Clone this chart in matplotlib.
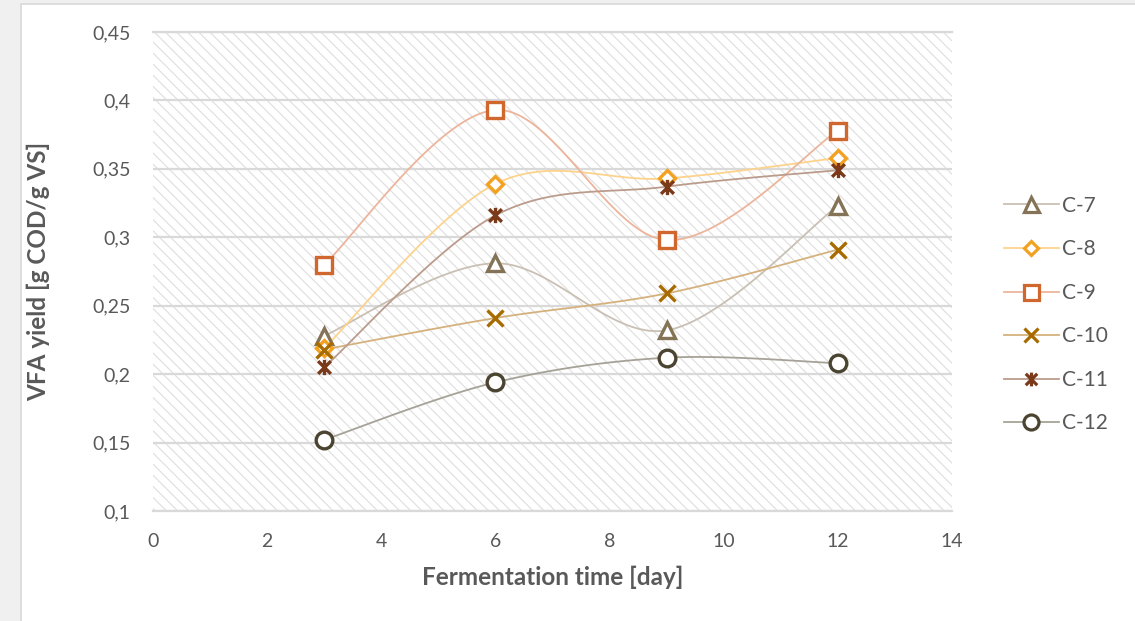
import numpy as np
import matplotlib
matplotlib.use('Agg')
import matplotlib.pyplot as plt
from matplotlib.path import Path
from matplotlib.patches import Rectangle
from matplotlib.ticker import FuncFormatter, MultipleLocator

plt.rcParams['font.family'] = ['Lato', 'DejaVu Sans']
plt.rcParams['hatch.linewidth'] = 0.8
plt.rcParams['hatch.color'] = '#dedede'

# fermentation days and VFA yields per culture
days = [3, 6, 9, 12]
series = ['C-7', 'C-8', 'C-9', 'C-10', 'C-11', 'C-12']
c7 = [0.228, 0.281, 0.232, 0.323]
c8 = [0.219, 0.339, 0.343, 0.358]
c9 = [0.280, 0.393, 0.298, 0.378]
c10 = [0.218, 0.241, 0.259, 0.291]
c11 = [0.205, 0.316, 0.337, 0.349]
c12 = [0.152, 0.194, 0.212, 0.208]
values = [c7, c8, c9, c10, c11, c12]

# asterisk marker: x plus a vertical stroke
star = Path([(-1, -1), (1, 1), (-1, 1), (1, -1), (0, -1.2), (0, 1.2)],
            [Path.MOVETO, Path.LINETO, Path.MOVETO, Path.LINETO, Path.MOVETO, Path.LINETO])

styles = {
    'C-7':  dict(marker='^', mc='#847356', lc='#c9c0b3', ms=12, fill='white'),
    'C-8':  dict(marker='D', mc='#f2a121', lc='#fdd38c', ms=8, fill='white'),
    'C-9':  dict(marker='s', mc='#d0672f', lc='#ecb59b', ms=12, fill='white'),
    'C-10': dict(marker='x', mc='#a86b00', lc='#d5b17d', ms=11, fill='none'),
    'C-11': dict(marker=star, mc='#7a3a1a', lc='#bb9c8c', ms=11, fill='none'),
    'C-12': dict(marker='o', mc='#4a4431', lc='#a6a297', ms=12, fill='white'),
}


def smooth(x, y, n=40):
    # Catmull-Rom style bezier through the points
    p = np.column_stack([x, y]).astype(float)
    ext = np.vstack([p[0], p, p[-1]])
    out = []
    t = np.linspace(0, 1, n)[:, None]
    for i in range(len(p) - 1):
        p0, p1, p2, p3 = ext[i], ext[i + 1], ext[i + 2], ext[i + 3]
        c1 = p1 + (p2 - p0) / 6
        c2 = p2 - (p3 - p1) / 6
        seg = ((1 - t) ** 3) * p1 + 3 * ((1 - t) ** 2) * t * c1 + 3 * (1 - t) * t ** 2 * c2 + t ** 3 * p2
        out.append(seg if i == 0 else seg[1:])
    out = np.vstack(out)
    return out[:, 0], out[:, 1]


fig = plt.figure(figsize=(11.35, 6.21), dpi=100, facecolor='#f0f0f0')
fig.patches.append(Rectangle((20.5 / 1135, -0.01), 1.1, 1 - 3.5 / 621 + 0.01,
                             transform=fig.transFigure, facecolor='white',
                             edgecolor='#d9d9d9', linewidth=1.2, zorder=-5))

ax = fig.add_axes([153 / 1135, 1 - 511 / 621, (952 - 153) / 1135, (511 - 32) / 621])
ax.set_facecolor('white')
ax.add_patch(Rectangle((0, 0), 1, 1, transform=ax.transAxes, facecolor='white',
                       edgecolor='#dedede', hatch='\\\\\\', linewidth=0, zorder=0))

for name, vals in zip(series, values):
    st = styles[name]
    sx, sy = smooth(days, vals)
    ax.plot(sx, sy, color=st['lc'], linewidth=1.3, zorder=2)
    ax.plot(days, vals, linestyle='none', marker=st['marker'], markersize=st['ms'],
            markeredgecolor=st['mc'], markerfacecolor=st['fill'], markeredgewidth=2.4,
            zorder=3)
    # legend proxy
    ax.plot([], [], color=st['lc'], linewidth=1.3, marker=st['marker'],
            markersize=st['ms'] * 0.9, markeredgecolor=st['mc'],
            markerfacecolor=st['fill'], markeredgewidth=2.3, label=name)

ax.set_xlim(0, 14)
ax.set_ylim(0.1, 0.45)
ax.xaxis.set_major_locator(MultipleLocator(2))
ax.yaxis.set_major_locator(MultipleLocator(0.05))
ax.yaxis.set_major_formatter(FuncFormatter(lambda v, p: ('%g' % round(v, 2)).replace('.', ',')))
ax.grid(axis='y', color='#d9d9d9', linewidth=1.6, zorder=1)
ax.set_axisbelow(True)
for s in ['left', 'right']:
    ax.spines[s].set_visible(False)
for s in ['top', 'bottom']:
    ax.spines[s].set_color('#d9d9d9')
    ax.spines[s].set_linewidth(1.6)

ax.tick_params(axis='both', length=0, labelsize=14, labelcolor='#595959')
ax.tick_params(axis='x', pad=16)
ax.tick_params(axis='y', pad=16)

ax.set_xlabel('Fermentation time [day]', fontsize=17.5, fontweight='bold', color='#595959')
ax.set_ylabel('VFA yield [g COD/g VS]', fontsize=17.5, fontweight='bold', color='#595959')
ax.xaxis.set_label_coords(0.5, (511 - 566) / 479)
ax.yaxis.set_label_coords((50 - 153) / 799, 0.5)

leg = ax.legend(loc='center left', bbox_to_anchor=(1.0415, 0.41), frameon=False,
                fontsize=15, handlelength=2.64, labelspacing=1.13, handletextpad=0.15,
                labelcolor='#595959')

fig.savefig('out.png', dpi=100, facecolor=fig.get_facecolor())
